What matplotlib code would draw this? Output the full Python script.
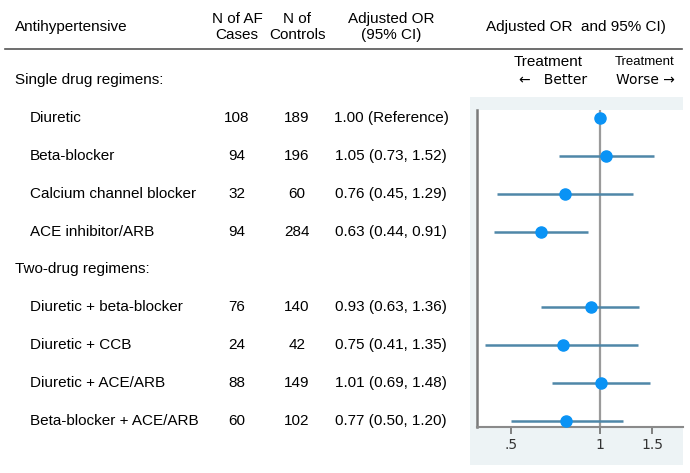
import numpy as np
import matplotlib.pyplot as plt
import matplotlib.transforms as mtransforms
from matplotlib.patches import Rectangle

plt.rcParams['font.family'] = ['Liberation Sans', 'DejaVu Sans']

# ---- data ----
groups = ["Single drug regimens:", "Two-drug regimens:"]
drugs = ["Diuretic", "Beta-blocker", "Calcium channel blocker", "ACE inhibitor/ARB",
         "Diuretic + beta-blocker", "Diuretic + CCB", "Diuretic + ACE/ARB",
         "Beta-blocker + ACE/ARB"]
af_cases = [108, 94, 32, 94, 76, 24, 88, 60]
controls = [189, 196, 60, 284, 140, 42, 149, 102]
odds = [1.00, 1.05, 0.76, 0.63, 0.93, 0.75, 1.01, 0.77]
ci_low = [np.nan, 0.73, 0.45, 0.44, 0.63, 0.41, 0.69, 0.50]
ci_high = [np.nan, 1.52, 1.29, 0.91, 1.36, 1.35, 1.48, 1.20]
or_labels = ["1.00 (Reference)", "1.05 (0.73, 1.52)", "0.76 (0.45, 1.29)",
             "0.63 (0.44, 0.91)", "0.93 (0.63, 1.36)", "0.75 (0.41, 1.35)",
             "1.01 (0.69, 1.48)", "0.77 (0.50, 1.20)"]
xticks = [0.5, 1, 1.5]
xtick_labels = [".5", "1", "1.5"]

# row index: 0 heading, 1-4 single, 5 heading, 6-9 two-drug
group_rows = [0, 5]
drug_rows = [1, 2, 3, 4, 6, 7, 8, 9]

W, H = 690, 473
fig = plt.figure(figsize=(6.9, 4.73), dpi=100)

def fx(px):
    return px / W

def fy(py):
    return 1 - py / H

# light panel behind forest plot
fig.patches.append(Rectangle((fx(470), fy(465)), fx(683) - fx(470), fy(97) - fy(465),
                             transform=fig.transFigure, facecolor="#EDF3F5",
                             edgecolor="none", zorder=-1))

ax = fig.add_axes([fx(477), fy(427), fx(683) - fx(477), fy(110) - fy(427)])
ax.set_zorder(1)
ax.set_xscale("log")
ax.set_xlim(0.384, 1.91)
ax.set_ylim(9.16, 0.79)
ax.set_facecolor("white")

ax.axvline(1, color="#9A9A9A", lw=1.6, zorder=1)
for r, o, lo, hi in zip(drug_rows, odds, ci_low, ci_high):
    if not np.isnan(lo):
        ax.plot([lo, hi], [r, r], color="#4F87A8", lw=1.8, zorder=2, solid_capstyle="butt")
    ax.plot(o, r, "o", color="#0A93F5", ms=8, zorder=3)

ax.spines["top"].set_visible(False)
ax.spines["right"].set_visible(False)
ax.spines["left"].set_color("#7A7A7A")
ax.spines["left"].set_linewidth(1.8)
ax.spines["bottom"].set_color("#8A8A8A")
ax.spines["bottom"].set_linewidth(1.5)
ax.set_yticks([])
ax.set_xticks(xticks)
ax.set_xticklabels(xtick_labels, fontsize=10, family=["DejaVu Sans"], color="#333333")
ax.xaxis.set_minor_locator(plt.NullLocator())
ax.tick_params(axis="x", length=5, width=1.3, color="#777777", pad=3)

# table text: x in figure fraction, y in row units
tr = mtransforms.blended_transform_factory(fig.transFigure, ax.transData)
fs = 11
for r, g in zip(group_rows, groups):
    fig.text(fx(15), r, g, transform=tr, ha="left", va="center", fontsize=fs)
for r, d, c, n, lab in zip(drug_rows, drugs, af_cases, controls, or_labels):
    fig.text(fx(30), r, d, transform=tr, ha="left", va="center", fontsize=fs)
    fig.text(fx(237), r, str(c), transform=tr, ha="center", va="center", fontsize=fs)
    fig.text(fx(297), r, str(n), transform=tr, ha="center", va="center", fontsize=fs)
    fig.text(fx(391), r, lab, transform=tr, ha="center", va="center", fontsize=fs)

# header
fig.text(fx(15), fy(27), "Antihypertensive", ha="left", va="center", fontsize=fs)
fig.text(fx(237), fy(27), "N of AF\nCases", ha="center", va="center", fontsize=fs,
         linespacing=1.1)
fig.text(fx(297), fy(27), "N of\nControls", ha="center", va="center", fontsize=fs,
         linespacing=1.1)
fig.text(fx(391), fy(27), "Adjusted OR\n(95% CI)", ha="center", va="center", fontsize=fs,
         linespacing=1.1)
fig.text(fx(576), fy(27), "Adjusted OR  and 95% CI)", ha="center", va="center", fontsize=fs)
fig.add_artist(plt.Line2D([fx(5), fx(682)], [fy(49), fy(49)], transform=fig.transFigure,
                          color="#555555", lw=1.2))

fig.text(fx(548), fy(62), "Treatment", ha="center", va="center", fontsize=11)
fig.text(fx(553), fy(80), "\u2190   Better", ha="center", va="center", fontsize=10,
         family=["DejaVu Sans"])
fig.text(fx(645), fy(62), "Treatment", ha="center", va="center", fontsize=9.5)
fig.text(fx(645), fy(80), "Worse \u2192", ha="center", va="center", fontsize=10,
         family=["DejaVu Sans"])

fig.savefig("out.png", dpi=100, facecolor="white")
